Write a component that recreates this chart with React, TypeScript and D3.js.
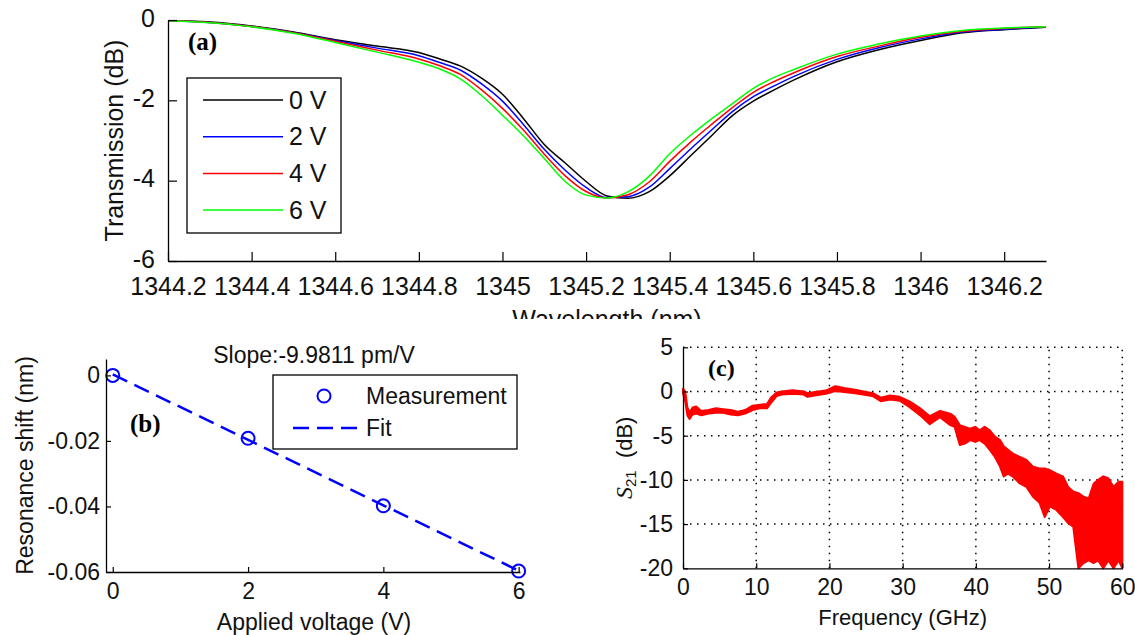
import React, { useEffect, useRef } from 'react';
import * as d3 from 'd3';

// ---- panel (a): transmission spectra ----
const WAVELENGTH = [
  1344.2, 1344.3, 1344.4, 1344.5, 1344.6, 1344.7, 1344.8, 1344.85, 1344.9, 1344.95,
  1345.0, 1345.05, 1345.1, 1345.15, 1345.2, 1345.25, 1345.3, 1345.35, 1345.4, 1345.45,
  1345.5, 1345.55, 1345.6, 1345.65, 1345.7, 1345.8, 1345.9, 1346.0, 1346.1, 1346.2, 1346.3
];
const T_0V = [
  -0.02, -0.05, -0.15, -0.3, -0.49, -0.65, -0.81, -0.97, -1.15, -1.45,
  -1.85, -2.45, -3.1, -3.56, -4.02, -4.38, -4.44, -4.28, -3.88, -3.38,
  -2.88, -2.38, -2.02, -1.74, -1.48, -1.04, -0.74, -0.51, -0.32, -0.24, -0.18
];
const T_2V = [
  -0.02, -0.06, -0.16, -0.31, -0.51, -0.7, -0.89, -1.06, -1.25, -1.59,
  -2.02, -2.6, -3.22, -3.74, -4.17, -4.42, -4.4, -4.17, -3.7, -3.21,
  -2.74, -2.28, -1.91, -1.64, -1.39, -0.98, -0.69, -0.47, -0.3, -0.23, -0.17
];
const T_4V = [
  -0.02, -0.06, -0.16, -0.32, -0.53, -0.75, -0.97, -1.14, -1.36, -1.74,
  -2.2, -2.74, -3.34, -3.88, -4.27, -4.43, -4.35, -4.04, -3.52, -3.04,
  -2.6, -2.18, -1.8, -1.53, -1.3, -0.91, -0.65, -0.43, -0.28, -0.21, -0.17
];
const T_6V = [
  -0.02, -0.07, -0.17, -0.33, -0.56, -0.8, -1.05, -1.22, -1.47, -1.88,
  -2.37, -2.88, -3.45, -4.02, -4.36, -4.43, -4.28, -3.9, -3.33, -2.87,
  -2.46, -2.08, -1.7, -1.43, -1.22, -0.85, -0.6, -0.4, -0.26, -0.2, -0.17
];
const VOLT_LABELS = ['0 V', '2 V', '4 V', '6 V'];
const VOLT_COLORS = ['#000000', '#0000ff', '#ff0000', '#00ff00'];
const WL_TICKS = [1344.2, 1344.4, 1344.6, 1344.8, 1345, 1345.2, 1345.4, 1345.6, 1345.8, 1346, 1346.2];
const T_TICKS = [0, -2, -4, -6];

// ---- panel (b): resonance shift ----
const VOLTAGE = [0, 2, 4, 6];
const SHIFT = [0, -0.0192, -0.0398, -0.0597];
const FIT_VOLTAGE = [0, 6];
const FIT_SHIFT = [0.0003, -0.0596];
const V_TICKS = [0, 2, 4, 6];
const SHIFT_TICKS = [0, -0.02, -0.04, -0.06];

// ---- panel (c): S21 response (upper / lower envelope of the noisy trace) ----
const FREQ = [
  0, 0.3, 0.6, 0.9, 1.3, 1.8, 2.5, 3.5, 4.5, 5.5, 6.5, 7.5, 8.5, 9.5, 10.5, 11.5, 12, 12.8,
  13.5, 15, 16.5, 17, 18, 19.5, 20.8, 22, 23.5, 25, 26, 27, 28.3, 29.6, 31, 32.4, 33.7, 35.1,
  36.5, 37.1, 37.8, 38.5, 39.2, 39.9, 40.5, 41.2, 41.9, 42.6, 43.3, 43.8, 44.4, 45.0, 46.0, 46.9,
  47.8, 48.7, 49.4, 50.1, 51.0, 51.9, 52.6, 53.3, 54.0, 54.7, 55.4, 56.1, 56.7, 57.4, 58.1, 58.8,
  59.5, 60
];
const S21_UPPER = [
  0.3, 0, -1.8, -2.4, -1.8, -1.7, -2.2, -2.1, -1.9, -2.0, -2.1, -2.3, -2.1, -1.6, -1.5, -1.4, -0.7, -0.1,
  0, 0.15, 0, -0.2, -0.05, 0.1, 0.6, 0.4, 0.2, -0.05, -0.2, -0.7, -0.45, -0.6, -1.15, -1.9, -2.8, -2.2,
  -2.5, -2.85, -3.8, -4.0, -4.2, -4.0, -4.4, -4.0, -4.4, -5.1, -5.5, -6.2, -6.6, -7.0, -7.4, -7.75,
  -8.5, -8.7, -8.7, -8.9, -9.3, -9.6, -10.8, -11.3, -11.5, -11.9, -12.1, -10.4, -10.0, -9.6, -9.8, -10.8,
  -10.2, -10.2
];
const S21_LOWER = [
  -0.2, -1.1, -2.7, -3.1, -2.6, -2.5, -2.7, -2.5, -2.4, -2.4, -2.6, -2.7, -2.5, -2.1, -1.9, -1.9, -1.3, -0.5,
  -0.35, -0.25, -0.35, -0.6, -0.45, -0.25, 0.05, -0.05, -0.2, -0.4, -0.55, -1.1, -0.9, -1.05, -1.8, -2.7, -3.7, -2.9,
  -3.8, -4.0, -6.05, -5.9, -5.5, -5.7, -5.5, -5.9, -6.6, -7.4, -8.5, -9.6, -9.3, -9.6, -10.4, -10.8,
  -11.9, -12.6, -14.2, -13.0, -13.4, -14.2, -14.9, -15.3, -20, -19.4, -19.1, -19.4, -19.1, -20, -19.1, -20,
  -19.1, -20
];
const F_TICKS = [0, 10, 20, 30, 40, 50, 60];
const S21_TICKS = [5, 0, -5, -10, -15, -20];

const FONT = 'Arial, "Liberation Sans", Helvetica, sans-serif';
const SERIF = '"Times New Roman", "Liberation Serif", serif';

const styleAxis = (g: d3.Selection<SVGGElement, unknown, null, undefined>, size: number) => {
  g.attr('font-family', FONT).attr('font-size', size);
  g.select('.domain').attr('stroke', '#000').attr('stroke-width', 1.3);
  g.selectAll('.tick line').attr('stroke', '#000').attr('stroke-width', 1.2);
  g.selectAll('.tick text').attr('fill', '#111');
};

export default function App() {
  const svgRef = useRef<SVGSVGElement>(null);

  useEffect(() => {
    if (!svgRef.current) return;
    const svg = d3.select(svgRef.current);
    svg.selectAll('*').remove();

    // ================= (a) =================
    svg.append('defs').append('clipPath').attr('id', 'clipA')
      .append('rect').attr('x', 0).attr('y', 0).attr('width', 1135).attr('height', 319);
    const a = svg.append('g').attr('clip-path', 'url(#clipA)');

    const xA = d3.scaleLinear().domain([1344.2, 1346.3]).range([168, 1046]);
    const yA = d3.scaleLinear().domain([-6, 0]).range([261, 20]);

    const series = [T_0V, T_2V, T_4V, T_6V];
    const lineA = d3.line<number>()
      .x((_, i) => xA(WAVELENGTH[i]))
      .y(d => yA(d))
      .curve(d3.curveMonotoneX);

    series.forEach((s, k) => {
      a.append('path')
        .datum(s)
        .attr('fill', 'none')
        .attr('stroke', VOLT_COLORS[k])
        .attr('stroke-width', 1.5)
        .attr('d', lineA);
    });

    const gxA = a.append('g')
      .attr('transform', `translate(0,${yA(-6)})`)
      .call(d3.axisBottom(xA).tickValues(WL_TICKS).tickFormat(d => String(d))
        .tickSizeInner(-9).tickSizeOuter(0).tickPadding(16));
    styleAxis(gxA, 25);

    const gyA = a.append('g')
      .attr('transform', `translate(${xA(1344.2)},0)`)
      .call(d3.axisLeft(yA).tickValues(T_TICKS).tickFormat(d => String(d))
        .tickSizeInner(-9).tickSizeOuter(0).tickPadding(13));
    styleAxis(gyA, 25);
    gyA.selectAll('.tick text').attr('dy', '0.25em');

    a.append('text')
      .attr('x', (xA(1344.2) + xA(1346.3)) / 2)
      .attr('y', 328)
      .attr('text-anchor', 'middle')
      .attr('font-family', FONT).attr('font-size', 25).attr('fill', '#111')
      .text('Wavelength (nm)');

    a.append('text')
      .attr('transform', `translate(123,${(yA(0) + yA(-6)) / 2}) rotate(-90)`)
      .attr('text-anchor', 'middle')
      .attr('font-family', FONT).attr('font-size', 25).attr('fill', '#111')
      .text('Transmission (dB)');

    a.append('text')
      .attr('x', 188).attr('y', 50)
      .attr('font-family', SERIF).attr('font-weight', 'bold').attr('font-size', 25)
      .text('(a)');

    const legA = a.append('g');
    legA.append('rect')
      .attr('x', 187).attr('y', 78).attr('width', 154).attr('height', 155)
      .attr('fill', '#fff').attr('stroke', '#000').attr('stroke-width', 1.3);
    VOLT_LABELS.forEach((lab, k) => {
      const yy = 100 + k * 36.7;
      legA.append('line')
        .attr('x1', 203).attr('x2', 283).attr('y1', yy).attr('y2', yy)
        .attr('stroke', VOLT_COLORS[k]).attr('stroke-width', 1.5);
      legA.append('text')
        .attr('x', 289).attr('y', yy).attr('dy', '0.35em')
        .attr('font-family', FONT).attr('font-size', 25).attr('fill', '#111')
        .text(lab);
    });

    // ================= (b) =================
    const xB = d3.scaleLinear().domain([-0.1, 6.02]).range([106, 520]);
    const yB = d3.scaleLinear().domain([-0.06, 0.005]).range([572, 359]);

    const lineB = d3.line<number>()
      .x((_, i) => xB(FIT_VOLTAGE[i]))
      .y(d => yB(d));
    svg.append('path')
      .datum(FIT_SHIFT)
      .attr('fill', 'none')
      .attr('stroke', '#0000ff')
      .attr('stroke-width', 2.5)
      .attr('stroke-dasharray', '16,8')
      .attr('d', lineB);

    svg.append('g').selectAll('circle')
      .data(SHIFT)
      .join('circle')
      .attr('cx', (_, i) => xB(VOLTAGE[i]))
      .attr('cy', d => yB(d))
      .attr('r', 6.5)
      .attr('fill', 'none')
      .attr('stroke', '#0000ff')
      .attr('stroke-width', 2);

    const gxB = svg.append('g')
      .attr('transform', `translate(0,${yB(-0.06)})`)
      .call(d3.axisBottom(xB).tickValues(V_TICKS).tickFormat(d => String(d))
        .tickSizeInner(-5).tickSizeOuter(0).tickPadding(11));
    styleAxis(gxB, 23);

    const gyB = svg.append('g')
      .attr('transform', `translate(${xB(-0.1)},0)`)
      .call(d3.axisLeft(yB).tickValues(SHIFT_TICKS).tickFormat(d => String(d))
        .tickSizeInner(-5).tickSizeOuter(0).tickPadding(6));
    styleAxis(gyB, 23);

    svg.append('text')
      .attr('x', 314).attr('y', 363)
      .attr('text-anchor', 'middle')
      .attr('font-family', FONT).attr('font-size', 23).attr('fill', '#111')
      .text('Slope:-9.9811 pm/V');

    svg.append('text')
      .attr('x', 314).attr('y', 630)
      .attr('text-anchor', 'middle')
      .attr('font-family', FONT).attr('font-size', 23).attr('fill', '#111')
      .text('Applied voltage (V)');

    svg.append('text')
      .attr('transform', `translate(33,${(yB(-0.06) + yB(0.005)) / 2}) rotate(-90)`)
      .attr('text-anchor', 'middle')
      .attr('font-family', FONT).attr('font-size', 23).attr('fill', '#111')
      .text('Resonance shift (nm)');

    svg.append('text')
      .attr('x', 130).attr('y', 432)
      .attr('font-family', SERIF).attr('font-weight', 'bold').attr('font-size', 25)
      .text('(b)');

    const legB = svg.append('g');
    legB.append('rect')
      .attr('x', 273).attr('y', 375).attr('width', 244).attr('height', 74)
      .attr('fill', '#fff').attr('stroke', '#000').attr('stroke-width', 1.3);
    legB.append('circle')
      .attr('cx', 324).attr('cy', 396).attr('r', 6.5)
      .attr('fill', 'none').attr('stroke', '#0000ff').attr('stroke-width', 2);
    legB.append('text')
      .attr('x', 366).attr('y', 396).attr('dy', '0.35em')
      .attr('font-family', FONT).attr('font-size', 23).attr('fill', '#111')
      .text('Measurement');
    legB.append('line')
      .attr('x1', 293).attr('x2', 359).attr('y1', 428).attr('y2', 428)
      .attr('stroke', '#0000ff').attr('stroke-width', 2.5).attr('stroke-dasharray', '16,8');
    legB.append('text')
      .attr('x', 366).attr('y', 428).attr('dy', '0.35em')
      .attr('font-family', FONT).attr('font-size', 23).attr('fill', '#111')
      .text('Fit');

    // ================= (c) =================
    const xC = d3.scaleLinear().domain([0, 60]).range([683, 1122.3]);
    const yC = d3.scaleLinear().domain([-20, 5]).range([568.3, 347.3]);

    const grid = svg.append('g')
      .attr('stroke', '#000').attr('stroke-width', 1.5).attr('stroke-dasharray', '1.5,5.5');
    F_TICKS.filter(f => f !== 0).forEach(f => {
      grid.append('line')
        .attr('x1', xC(f)).attr('x2', xC(f)).attr('y1', yC(-20)).attr('y2', yC(5));
    });
    S21_TICKS.filter(v => v !== -20).forEach(v => {
      grid.append('line')
        .attr('x1', xC(0)).attr('x2', xC(60)).attr('y1', yC(v)).attr('y2', yC(v));
    });

    const areaC = d3.area<number>()
      .x((_, i) => xC(FREQ[i]))
      .y0((_, i) => yC(S21_LOWER[i]))
      .y1(d => yC(d));
    svg.append('path')
      .datum(S21_UPPER)
      .attr('fill', '#ff0000')
      .attr('stroke', '#ff0000')
      .attr('stroke-width', 2)
      .attr('stroke-linejoin', 'round')
      .attr('d', areaC);

    const gxC = svg.append('g')
      .attr('transform', `translate(0,${yC(-20)})`)
      .call(d3.axisBottom(xC).tickValues(F_TICKS).tickFormat(d => String(d))
        .tickSizeInner(-5).tickSizeOuter(0).tickPadding(10));
    styleAxis(gxC, 23);

    const gyC = svg.append('g')
      .attr('transform', `translate(${xC(0)},0)`)
      .call(d3.axisLeft(yC).tickValues(S21_TICKS).tickFormat(d => String(d))
        .tickSizeInner(-5).tickSizeOuter(0).tickPadding(10));
    styleAxis(gyC, 23);

    svg.append('text')
      .attr('x', (xC(0) + xC(60)) / 2).attr('y', 625)
      .attr('text-anchor', 'middle')
      .attr('font-family', FONT).attr('font-size', 22).attr('fill', '#111')
      .text('Frequency (GHz)');

    const yl = svg.append('text')
      .attr('transform', `translate(632,${(yC(-20) + yC(5)) / 2}) rotate(-90)`)
      .attr('text-anchor', 'middle')
      .attr('font-family', FONT).attr('font-size', 22).attr('fill', '#111');
    yl.append('tspan').attr('font-family', SERIF).attr('font-style', 'italic').attr('font-size', 24).text('S');
    yl.append('tspan').attr('font-size', 15).attr('dy', 4).text('21');
    yl.append('tspan').attr('dy', -4).text('\u00a0\u00a0(dB)');

    svg.append('text')
      .attr('x', 708).attr('y', 376)
      .attr('font-family', SERIF).attr('font-weight', 'bold').attr('font-size', 24)
      .text('(c)');
  }, []);

  return (
    <div style={{ position: 'absolute', left: 0, top: 0 }}>
      <svg
        ref={svgRef}
        width={1135}
        height={635}
        style={{ display: 'block', background: '#fff' }}
        role="img"
        aria-label="Transmission spectra, resonance shift and S21 response"
      />
    </div>
  );
}
